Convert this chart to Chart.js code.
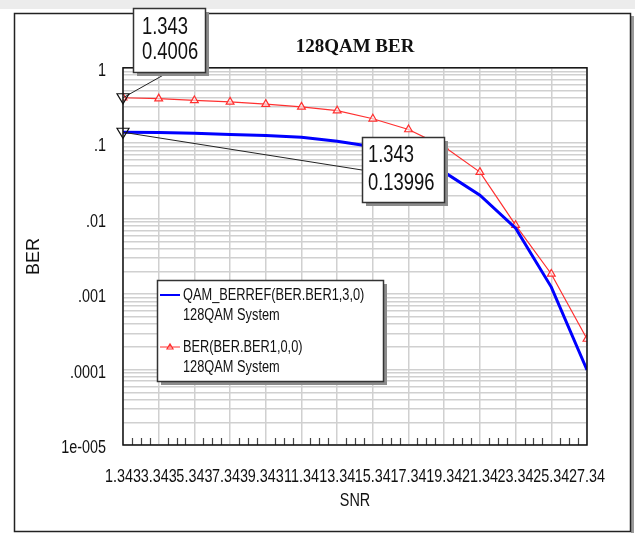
<!DOCTYPE html>
<html>
<head>
<meta charset="utf-8">
<script src="https://cdn.jsdelivr.net/npm/chart.js@4.4.0/dist/chart.umd.min.js"></script>
<style>
html, body { margin: 0; padding: 0; background: #fff; }
#wrap { width: 635px; height: 533px; }
</style>
</head>
<body>
<div id="wrap"><canvas id="berChart" width="635" height="533"></canvas></div>
<script>
// data
const snr = [1.343, 3.343, 5.343, 7.343, 9.343, 11.343, 13.343, 15.343, 17.343, 19.343, 21.343, 23.343, 25.343, 27.343];
const snrLabels = ['1.343', '3.343', '5.343', '7.343', '9.343', '11.34', '13.34', '15.34', '17.34', '19.34', '21.34', '23.34', '25.34', '27.34'];
const berRef = [0.13996, 0.1390, 0.1355, 0.131, 0.127, 0.120, 0.106, 0.090, 0.0655, 0.0414, 0.0205, 0.0075, 0.00124, 0.0000989];
const berSim = [0.4006, 0.390, 0.369, 0.353, 0.330, 0.303, 0.270, 0.211, 0.152, 0.0896, 0.0414, 0.0082, 0.00185, 0.000254];
const berDecades = [1, 0.1, 0.01, 0.001, 0.0001, 0.00001];
const berLabels = ['1', '.1', '.01', '.001', '.0001', '1e-005'];
const seriesNames = ['QAM_BERREF(BER.BER1,3,0)', 'BER(BER.BER1,0,0)'];
const seriesSub = ['128QAM System', '128QAM System'];

// no narrow sans installed, so sans text gets squeezed horizontally when drawn
const SANS = "'Liberation Sans', Arial, sans-serif";
const SQUEEZE = 0.8;
const BLUE = '#0000ff';
const RED = '#ff3030';

const pts = ys => snr.map((x, i) => ({ x: x, y: ys[i] }));

function squeezeText(ctx) {
    if (ctx._squeezed) return;
    const orig = ctx.fillText;
    ctx.fillText = function (text, x, y, maxWidth) {
        if (this.font.indexOf('Liberation Sans') < 0) return orig.call(this, text, x, y, maxWidth);
        this.save();
        this.translate(x, y);
        this.scale(SQUEEZE, 1);
        orig.call(this, text, 0, 0);
        this.restore();
    };
    ctx._squeezed = true;
}

// grey page + window frame behind everything
const framePlugin = {
    id: 'frame',
    beforeDraw(chart) {
        const ctx = chart.ctx;
        squeezeText(ctx);
        ctx.save();
        ctx.fillStyle = '#ececec';
        ctx.fillRect(0, 0, 635, 9);
        ctx.fillStyle = '#fff';
        ctx.fillRect(0, 9, 635, 524);
        ctx.fillStyle = '#9a9a9a';
        ctx.fillRect(631, 16, 3, 517);
        ctx.strokeStyle = '#222';
        ctx.lineWidth = 1.5;
        ctx.strokeRect(14.5, 13.5, 616, 518);
        ctx.restore();
    }
};

function shadowBox(ctx, x, y, w, h) {
    ctx.fillStyle = '#8c8c8c';
    ctx.fillRect(x + 4, y + 4, w, h);
    ctx.fillStyle = '#fff';
    ctx.fillRect(x, y, w, h);
    ctx.strokeStyle = '#333';
    ctx.lineWidth = 1.5;
    ctx.strokeRect(x + 0.5, y + 0.5, w, h);
}

function downTriangle(ctx, x, y) {
    ctx.beginPath();
    ctx.moveTo(x - 6, y - 4);
    ctx.lineTo(x + 6, y - 4);
    ctx.lineTo(x, y + 6);
    ctx.closePath();
    ctx.strokeStyle = '#111';
    ctx.lineWidth = 1.2;
    ctx.stroke();
}

// plot border, minor ticks, callouts and the legend box
const decorPlugin = {
    id: 'decor',
    afterDatasetsDraw(chart) {
        const ctx = chart.ctx;
        const area = chart.chartArea;
        const xs = chart.scales.x;
        ctx.save();

        // minor tick marks on the bottom edge
        ctx.strokeStyle = '#444';
        ctx.lineWidth = 1.2;
        for (let i = 0; i < snr.length - 1; i++) {
            for (let k = 1; k <= 3; k++) {
                const px = Math.round(xs.getPixelForValue(snr[i] + k * 0.5)) + 0.5;
                ctx.beginPath();
                ctx.moveTo(px, area.bottom);
                ctx.lineTo(px, area.bottom - 7);
                ctx.stroke();
            }
        }

        ctx.strokeStyle = '#111';
        ctx.lineWidth = 1.5;
        ctx.strokeRect(area.left, area.top, area.right - area.left, area.bottom - area.top);

        // callouts on the first point of each series
        const pSim = chart.getDatasetMeta(1).data[0];
        const pRef = chart.getDatasetMeta(0).data[0];

        ctx.strokeStyle = '#222';
        ctx.lineWidth = 1;
        ctx.beginPath();
        ctx.moveTo(pSim.x, pSim.y);
        ctx.lineTo(167, 73);
        ctx.moveTo(pRef.x, pRef.y);
        ctx.lineTo(362, 170);
        ctx.stroke();
        downTriangle(ctx, pSim.x, pSim.y);
        downTriangle(ctx, pRef.x, pRef.y);

        ctx.font = '23px ' + SANS;
        ctx.textAlign = 'left';
        ctx.textBaseline = 'middle';
        shadowBox(ctx, 133, 8, 72, 64);
        ctx.fillStyle = '#111';
        ctx.fillText(snrLabels[0], 142, 28);
        ctx.fillText(String(berSim[0]), 142, 53);
        shadowBox(ctx, 362, 137, 82, 65);
        ctx.fillStyle = '#111';
        ctx.fillText(snrLabels[0], 368, 156);
        ctx.fillText(String(berRef[0]), 368, 184);

        // legend
        shadowBox(ctx, 157, 280, 226, 101);
        ctx.lineWidth = 2;
        ctx.strokeStyle = BLUE;
        ctx.beginPath();
        ctx.moveTo(160, 295);
        ctx.lineTo(180, 295);
        ctx.stroke();
        ctx.lineWidth = 1.2;
        ctx.strokeStyle = RED;
        ctx.beginPath();
        ctx.moveTo(160, 347);
        ctx.lineTo(180, 347);
        ctx.moveTo(167, 349);
        ctx.lineTo(173, 349);
        ctx.lineTo(170, 344);
        ctx.closePath();
        ctx.stroke();
        ctx.font = '16px ' + SANS;
        ctx.fillStyle = '#111';
        ctx.fillText(seriesNames[0], 183, 296);
        ctx.fillText(seriesSub[0], 183, 316);
        ctx.fillText(seriesNames[1], 183, 348);
        ctx.fillText(seriesSub[1], 183, 368);

        ctx.restore();
    }
};

const ctx = document.getElementById('berChart');
new Chart(ctx, {
    type: 'line',
    data: {
        datasets: [{
            label: seriesNames[0],
            data: pts(berRef),
            borderColor: BLUE,
            borderWidth: 3,
            pointRadius: 0,
            tension: 0
        },
        {
            label: seriesNames[1],
            data: pts(berSim),
            borderColor: RED,
            borderWidth: 1.2,
            pointStyle: 'triangle',
            pointRadius: 4.5,
            pointBorderWidth: 1.2,
            pointBorderColor: RED,
            pointBackgroundColor: 'rgba(255,255,255,0.6)',
            tension: 0
        }]
    },
    options: {
        responsive: false,
        animation: false,
        devicePixelRatio: 1,
        layout: { padding: { top: 0, left: 0, right: 48, bottom: 0 } },
        plugins: {
            legend: { display: false },
            tooltip: { enabled: false },
            title: {
                display: true,
                fullSize: false,
                text: '128QAM BER',
                color: '#111',
                font: { family: "'Liberation Serif', 'Times New Roman', serif", size: 19, weight: 'bold' },
                padding: { top: 36, bottom: 9 }
            }
        },
        scales: {
            x: {
                type: 'linear',
                min: snr[0],
                max: snr[snr.length - 1],
                afterBuildTicks: s => { s.ticks = snr.map(v => ({ value: v })); },
                afterFit: s => { s.height = 88; },
                ticks: {
                    autoSkip: false,
                    maxRotation: 0,
                    minRotation: 0,
                    padding: 21,
                    color: '#111',
                    font: { family: SANS, size: 18 },
                    callback: (v, i) => snrLabels[i]
                },
                grid: { color: '#d0d0d0', lineWidth: 1.5, drawTicks: false },
                border: { display: false },
                title: {
                    display: true,
                    text: 'SNR',
                    color: '#111',
                    font: { family: SANS, size: 18 },
                    padding: { top: 0, bottom: 21 }
                }
            },
            y: {
                type: 'logarithmic',
                min: 0.00001,
                max: 1,
                afterBuildTicks: s => {
                    const t = [];
                    berDecades.slice().reverse().forEach(d => {
                        for (let m = 1; m <= 9; m++) {
                            if (d * m <= 1.0000001) t.push({ value: d * m });
                        }
                    });
                    s.ticks = t;
                },
                afterFit: s => { s.width = 123; },
                ticks: {
                    autoSkip: false,
                    padding: 17,
                    labelOffset: 3,
                    color: '#111',
                    font: { family: SANS, size: 18 },
                    callback: v => {
                        const idx = berDecades.findIndex(d => Math.abs(d - v) < d * 1e-6);
                        return idx >= 0 ? berLabels[idx] : '';
                    }
                },
                grid: { color: '#d0d0d0', lineWidth: 1.5, drawTicks: false },
                border: { display: false },
                title: {
                    display: true,
                    text: 'BER',
                    color: '#111',
                    // drawn at full width, like the reference
                    font: { family: 'Arial, sans-serif', size: 18 },
                    padding: { top: 23, bottom: 0 }
                }
            }
        }
    },
    plugins: [framePlugin, decorPlugin]
});
</script>
</body>
</html>
